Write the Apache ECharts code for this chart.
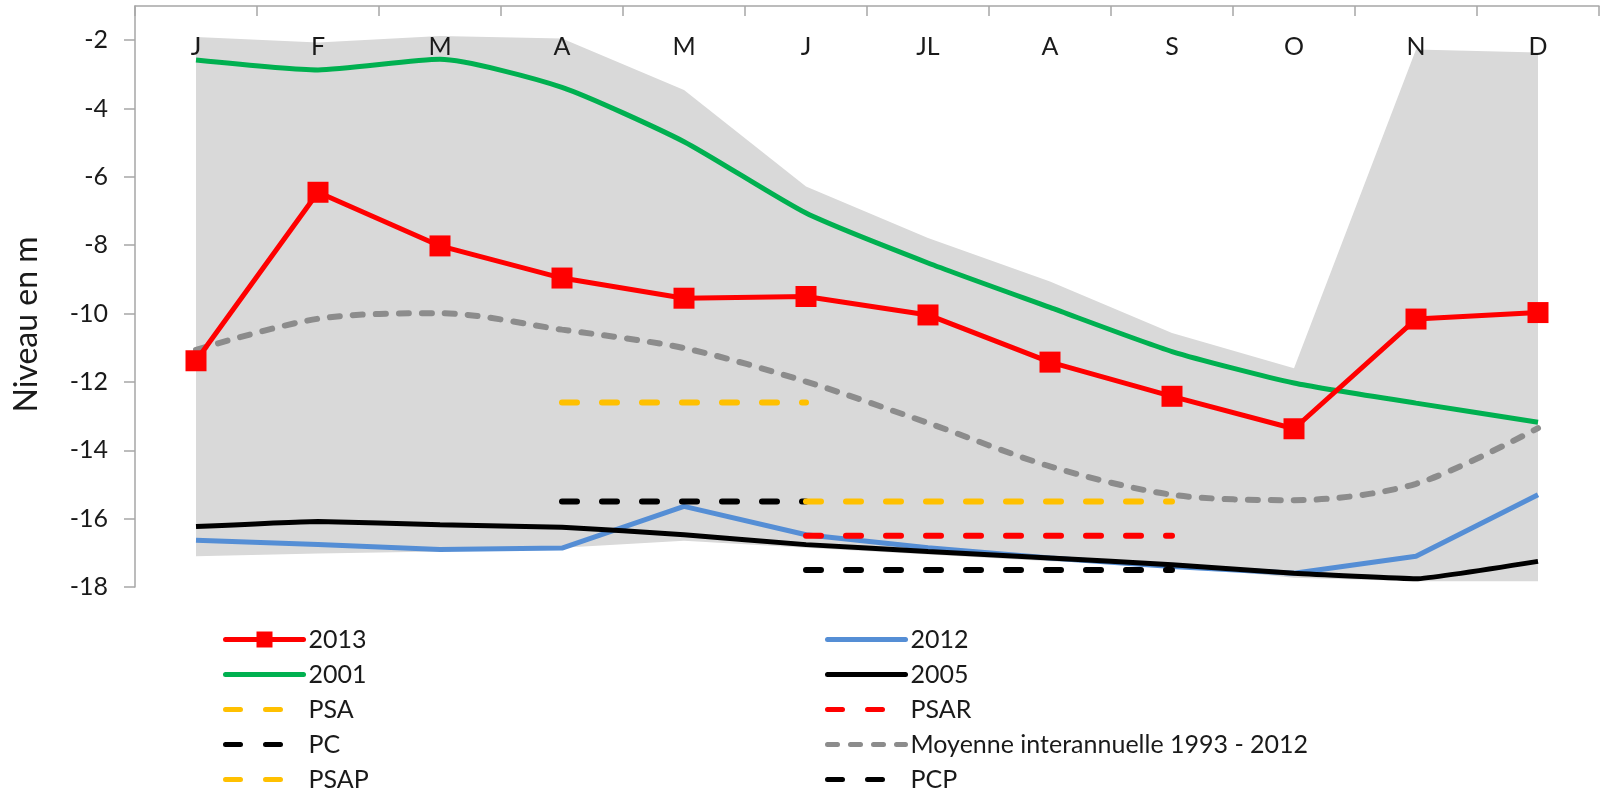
<!DOCTYPE html>
<html><head><meta charset="utf-8">
<script src="https://cdn.jsdelivr.net/npm/echarts@6/dist/echarts.min.js"></script>
<style>html,body{margin:0;padding:0;background:#fff}#c{width:1607px;height:789px}</style>
</head><body><div id="c"></div>
<script>
const months = ['J','F','M','A','M','J','JL','A','S','O','N','D'];
const yTicks = {min: -18, max: -1, interval: 2};
const envMin = [-17.1, -17.02, -16.96, -16.85, -16.65, -16.85, -17.05, -17.25, -17.38, -17.73, -17.83, -17.83];
const envMax = [-1.91, -2.07, -1.88, -1.95, -3.46, -6.28, -7.79, -9.06, -10.57, -11.6, -2.27, -2.36];
const s2013 = [-11.38, -6.45, -8.02, -8.96, -9.55, -9.50, -10.04, -11.42, -12.42, -13.37, -10.16, -9.97];
const s2001 = [-2.58, -2.87, -2.56, -3.38, -4.97, -7.06, -8.52, -9.82, -11.11, -12.03, -12.62, -13.18];
const s2012 = [-16.63, -16.76, -16.9, -16.86, -15.64, -16.47, -16.85, -17.15, -17.4, -17.6, -17.1, -15.3];
const s2005 = [-16.23, -16.08, -16.18, -16.25, -16.47, -16.76, -16.96, -17.15, -17.35, -17.6, -17.76, -17.25];
const sMoy = [-11.06, -10.15, -9.99, -10.47, -11.01, -11.99, -13.2, -14.47, -15.3, -15.46, -14.98, -13.35];
const sPSA  = [null, null, null, -12.6, -12.6, -12.6, null, null, null, null, null, null];
const sPC   = [null, null, null, -15.5, -15.5, -15.5, null, null, null, null, null, null];
const sPSAP = [null, null, null, null, null, -15.5, -15.5, -15.5, -15.5, null, null, null];
const sPSAR = [null, null, null, null, null, -16.5, -16.5, -16.5, -16.5, null, null, null];
const sPCP  = [null, null, null, null, null, -17.5, -17.5, -17.5, -17.5, null, null, null];
const moyName = 'Moyenne interannuelle 1993 - 2012';
const legendLeft = ['2013', '2001', 'PSA', 'PC', 'PSAP'];
const legendRight = ['2012', '2005', 'PSAR', moyName, 'PCP'];

const FONT = 'Lato';
const txt = '#1a1a1a';
const axisCol = '#a6a6a6';
const envDiff = envMax.map((v, i) => v - envMin[i]);

function dashed(name, data, color, z) {
  return {name, type: 'line', data, symbol: 'none', z: z || 4,
    lineStyle: {color, width: 6, type: [15, 25], cap: 'round'},
    itemStyle: {color}, connectNulls: false, silent: true};
}
function legItem(name) {
  if (name === '2013') return {name};
  return {name, itemStyle: {color: 'rgba(0,0,0,0)', opacity: 0, borderWidth: 0}};
}
const legendCommon = {orient: 'vertical', itemWidth: 78, itemHeight: 20, itemGap: 10, height: 200,
  lineStyle: {width: 5, cap: 'round'},
  textStyle: {fontSize: 25, color: txt, fontFamily: FONT, lineHeight: 25}};

const chart = echarts.init(document.getElementById('c'), null, {renderer: 'canvas'});
chart.setOption({
  backgroundColor: '#fff',
  animation: false,
  textStyle: {fontFamily: FONT},
  grid: {left: 135, right: 8, top: 6, bottom: 202, containLabel: false},
  xAxis: {
    type: 'category', data: months, position: 'top', boundaryGap: true, z: 10,
    axisLine: {show: true, lineStyle: {color: axisCol, width: 1.5}},
    axisTick: {show: true, inside: true, length: 10, lineStyle: {color: axisCol, width: 1.5}},
    axisLabel: {inside: true, margin: 28, fontSize: 25, color: txt, fontFamily: FONT},
    splitLine: {show: false}
  },
  yAxis: {
    type: 'value', min: yTicks.min, max: yTicks.max, interval: yTicks.interval,
    name: 'Niveau en m', nameLocation: 'middle', nameGap: 92, nameRotate: 90,
    nameTextStyle: {fontSize: 32, color: txt, fontFamily: FONT, padding: [0, 56, 0, 0]},
    axisLine: {show: true, lineStyle: {color: axisCol, width: 1.5}},
    axisTick: {show: true, inside: false, length: 11, lineStyle: {color: axisCol, width: 1.5}},
    axisLabel: {margin: 27, fontSize: 25, color: txt, fontFamily: FONT, showMaxLabel: false},
    splitLine: {show: false}
  },
  legend: [
    Object.assign({left: 218, top: 622, data: legendLeft.map(legItem)}, legendCommon),
    Object.assign({left: 820, top: 622, data: legendRight.map(legItem)}, legendCommon)
  ],
  series: [
    {name: 'envBase', type: 'line', data: envMin, stack: 'env', stackStrategy: 'all',
     symbol: 'none', lineStyle: {opacity: 0}, silent: true, z: 1},
    {name: 'envelope', type: 'line', data: envDiff, stack: 'env', stackStrategy: 'all',
     symbol: 'none', lineStyle: {opacity: 0}, areaStyle: {color: '#d9d9d9', opacity: 1}, silent: true, z: 1},
    {name: '2001', type: 'line', data: s2001, symbol: 'none', smooth: 0.2, z: 3,
     lineStyle: {color: '#00b050', width: 5}, itemStyle: {color: '#00b050'}},
    {name: '2012', type: 'line', data: s2012, symbol: 'none', z: 3,
     lineStyle: {color: '#558ed5', width: 5}, itemStyle: {color: '#558ed5'}},
    {name: '2005', type: 'line', data: s2005, symbol: 'none', smooth: 0.1, z: 3,
     lineStyle: {color: '#000000', width: 5}, itemStyle: {color: '#000000'}},
    {name: moyName, type: 'line', data: sMoy, symbol: 'none', smooth: 0.3, z: 3,
     lineStyle: {color: '#8c8c8c', width: 6, type: [10, 13], cap: 'round'}, itemStyle: {color: '#8c8c8c'}},
    dashed('PSA', sPSA, '#ffc000'),
    dashed('PC', sPC, '#000000'),
    dashed('PSAP', sPSAP, '#ffc000'),
    dashed('PSAR', sPSAR, '#ff0000'),
    dashed('PCP', sPCP, '#000000'),
    {name: '2013', type: 'line', data: s2013, symbol: 'rect', symbolSize: 21, z: 5,
     lineStyle: {color: '#ff0000', width: 5}, itemStyle: {color: '#ff0000'}}
  ]
});
</script>
</body></html>
